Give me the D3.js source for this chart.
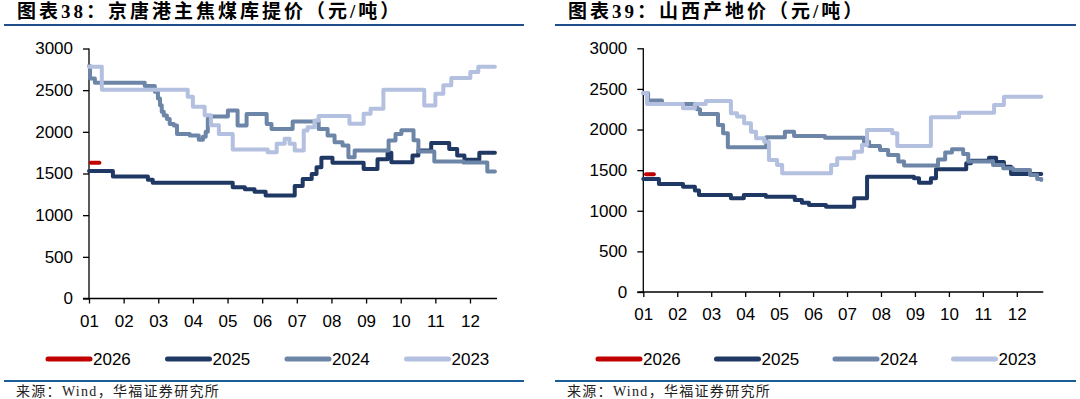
<!DOCTYPE html>
<html>
<head>
<meta charset="utf-8">
<script src="https://cdn.jsdelivr.net/npm/d3@7"></script>
<style>
  body { margin: 0; background: #fff; }
  svg { display: block; }
</style>
</head>
<body>
<svg id="chart" width="1080" height="399"></svg>
<script>
// month labels and y ticks, shared by both panels
var months = ["01", "02", "03", "04", "05", "06", "07", "08", "09", "10", "11", "12"];
var yTicks = [0, 500, 1000, 1500, 2000, 2500, 3000];
var years = ["2026", "2025", "2024", "2023"];
var yearColors = ["#c00000", "#1f3864", "#6d86a7", "#b4c0e0"];

// x = position in months since 01 (step breakpoints), y = 元/吨
// 图表38 京唐港主焦煤库提价
var jt2026 = [[0.05, 1630], [0.30, 1630]];
var jt2025 = [[0, 1530], [0.69, 1465], [1.70, 1425], [1.84, 1390], [4.15, 1335], [4.50, 1310],
  [4.78, 1280], [5.10, 1235], [5.94, 1350], [6.17, 1435], [6.43, 1495], [6.57, 1575],
  [6.71, 1690], [7.03, 1630], [7.93, 1555], [8.33, 1670], [8.62, 1750], [8.73, 1635],
  [9.34, 1715], [9.51, 1775], [9.88, 1865], [10.40, 1795], [10.63, 1715], [10.84, 1665],
  [11.27, 1750], [11.72, 1750]];
var jt2024 = [[0, 2790], [0.03, 2640], [0.17, 2590], [1.61, 2550], [1.90, 2480], [1.99, 2400],
  [2.05, 2320], [2.10, 2240], [2.16, 2195], [2.25, 2155], [2.33, 2095], [2.45, 2075],
  [2.54, 1975], [2.91, 1955], [3.17, 1905], [3.29, 1940], [3.37, 2000], [3.43, 2160],
  [3.49, 2185], [4.01, 2255], [4.29, 2075], [4.55, 2215], [5.13, 2095], [5.27, 2035],
  [5.88, 2125], [6.63, 2035], [6.89, 1955], [7.09, 1875], [7.32, 1835], [7.49, 1695],
  [7.67, 1775], [8.65, 1895], [8.85, 1975], [9.02, 2020], [9.37, 1900], [9.51, 1765],
  [9.97, 1645], [10.81, 1632], [11.50, 1525], [11.72, 1525]];
var jt2023 = [[0, 2780], [0.37, 2505], [2.85, 2420], [3.00, 2300], [3.34, 2200], [3.52, 2080],
  [3.75, 1975], [4.15, 1787], [5.16, 1756], [5.42, 1856], [5.65, 1916], [5.79, 1856],
  [5.94, 1775], [6.20, 2016], [6.31, 2056], [6.51, 2137], [6.63, 2189], [7.52, 2097],
  [7.93, 2217], [8.13, 2277], [8.50, 2506], [9.68, 2317], [10.00, 2458], [10.23, 2558],
  [10.46, 2647], [11.01, 2719], [11.24, 2780], [11.72, 2780]];

// 图表39 山西产地价
var sx2026 = [[0.08, 1450], [0.31, 1450]];
var sx2025 = [[0, 1390], [0.46, 1330], [1.17, 1297], [1.52, 1250], [1.64, 1195], [2.58, 1154],
  [2.96, 1195], [3.61, 1174], [4.46, 1133], [4.67, 1100], [4.88, 1071], [5.38, 1050],
  [6.21, 1154], [6.59, 1420], [7.97, 1400], [8.12, 1346], [8.47, 1400], [8.62, 1511],
  [9.51, 1585], [9.65, 1617], [10.18, 1654], [10.39, 1600], [10.62, 1543], [10.83, 1453],
  [11.72, 1453]];
var sx2024 = [[0, 2447], [0.14, 2356], [0.55, 2315], [1.58, 2250], [1.67, 2192], [2.20, 2056],
  [2.35, 1954], [2.49, 1782], [3.62, 1905], [4.17, 1974], [4.44, 1921], [5.35, 1900],
  [6.50, 1850], [6.65, 1798], [6.97, 1749], [7.21, 1687], [7.51, 1605], [7.68, 1556],
  [8.68, 1630], [8.89, 1716], [9.09, 1757], [9.42, 1700], [9.57, 1605], [10.30, 1564],
  [10.60, 1523], [10.89, 1502], [11.39, 1440], [11.60, 1390], [11.72, 1380]];
var sx2023 = [[0, 2450], [0.11, 2315], [1.17, 2262], [1.52, 2315], [1.84, 2352], [2.58, 2200],
  [2.76, 2159], [2.97, 2077], [3.17, 1974], [3.32, 1893], [3.56, 1851], [3.70, 1626],
  [3.94, 1564], [4.09, 1462], [5.53, 1564], [5.71, 1646], [6.21, 1728], [6.44, 1810],
  [6.59, 1995], [7.33, 1954], [7.48, 1798], [8.47, 2151], [9.30, 2208], [10.33, 2303],
  [10.62, 2405], [11.72, 2405]];

var svg = d3.select("#chart");

drawPanel({
  title: "图表38：京唐港主焦煤库提价（元/吨）",
  titleX: 17, ruleX: [4, 524],
  x: [89, 497], y: [298.5, 48.5],
  legendX: 48, legendStep: 119.5,
  series: [jt2026, jt2025, jt2024, jt2023]
});

drawPanel({
  title: "图表39：山西产地价（元/吨）",
  titleX: 568, ruleX: [555, 1076],
  x: [643.3, 1043.3], y: [292, 48.3],
  legendX: 598, legendStep: 118.5,
  series: [sx2026, sx2025, sx2024, sx2023]
});

function drawPanel(p) {
  var g = svg.append("g");

  g.append("text")
      .attr("x", p.titleX)
      .attr("y", 18)
      .attr("font-family", "'Liberation Serif', 'Noto Sans CJK SC', serif")
      .attr("font-weight", "bold")
      .attr("font-size", 19)
      .attr("letter-spacing", 3)
      .text(p.title);

  g.append("line")
      .attr("x1", p.ruleX[0]).attr("x2", p.ruleX[1])
      .attr("y1", 25).attr("y2", 25)
      .attr("stroke", "#1f4f8a")
      .attr("stroke-width", 2);

  g.append("line")
      .attr("x1", p.ruleX[0]).attr("x2", p.ruleX[1])
      .attr("y1", 381).attr("y2", 381)
      .attr("stroke", "#1a5d97")
      .attr("stroke-width", 2);

  g.append("text")
      .attr("x", p.titleX - 1)
      .attr("y", 396)
      .attr("font-family", "'Liberation Serif', 'Noto Sans CJK SC', serif")
      .attr("font-size", 14)
      .attr("letter-spacing", 1.3)
      .attr("fill", "#222")
      .text("来源：Wind，华福证券研究所");

  var x = d3.scaleLinear().domain([0, 11.78]).range(p.x);
  var y = d3.scaleLinear().domain([0, 3000]).range(p.y);

  var yAxis = g.append("g")
      .attr("transform", "translate(" + p.x[0] + ",0)")
      .call(d3.axisLeft(y).tickValues(yTicks).tickFormat(d3.format("d"))
        .tickSize(6).tickPadding(10));

  var xAxis = g.append("g")
      .attr("transform", "translate(0," + p.y[0] + ")")
      .call(d3.axisBottom(x).tickValues(d3.range(12))
        .tickFormat(i => months[i]).tickSize(5).tickPadding(11));

  [yAxis, xAxis].forEach(a => {
    a.select(".domain").attr("stroke", "#000").attr("stroke-width", 1.3);
    a.selectAll(".tick line").attr("stroke", "#000").attr("stroke-width", 1.3);
    a.selectAll(".tick text")
        .attr("fill", "#000")
        .attr("font-family", "'Liberation Sans', Arial, sans-serif")
        .attr("font-size", 17);
  });
  // flat axis ends, no outer tick stubs
  yAxis.select(".domain").attr("d", "M0," + p.y[0] + "V" + p.y[1]);
  xAxis.select(".domain").attr("d", "M" + (p.x[0] - 6) + ",0H" + p.x[1]);

  var line = d3.line()
      .x(d => x(d[0]))
      .y(d => y(d[1]))
      .curve(d3.curveStepAfter);

  // draw 2025 first so the older years sit on top, 2026 last
  [1, 2, 3, 0].forEach(i => {
    g.append("path")
        .datum(p.series[i])
        .attr("d", line)
        .attr("fill", "none")
        .attr("stroke", yearColors[i])
        .attr("stroke-width", 4)
        .attr("stroke-linejoin", "round")
        .attr("stroke-linecap", "round");
  });

  var legend = g.selectAll(".legend")
      .data(years)
    .enter().append("g")
      .attr("transform", (d, i) => "translate(" + (p.legendX + i * p.legendStep) + ",359)");

  legend.append("line")
      .attr("x1", 0).attr("x2", 42)
      .attr("stroke", (d, i) => yearColors[i])
      .attr("stroke-width", 5)
      .attr("stroke-linecap", "round");

  legend.append("text")
      .attr("x", 45)
      .attr("y", 6)
      .attr("font-family", "'Liberation Sans', Arial, sans-serif")
      .attr("font-size", 17)
      .text(d => d);
}
</script>
</body>
</html>
